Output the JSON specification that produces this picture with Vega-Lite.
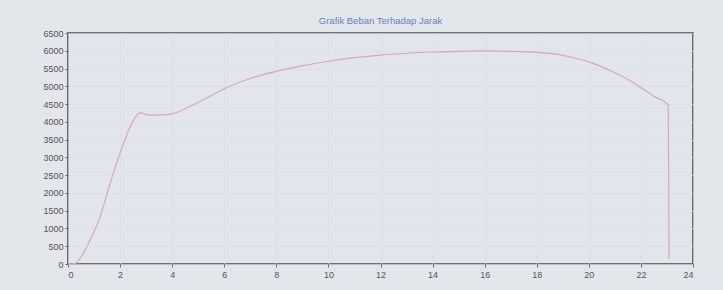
{
  "$schema": "https://vega.github.io/schema/vega-lite/v6.json",
  "width": 625,
  "height": 231,
  "autosize": {"type": "none"},
  "padding": {"left": 68, "top": 33, "right": 30, "bottom": 26},
  "background": "#e3e6eb",
  "title": {
    "text": "Grafik Beban Terhadap Jarak",
    "fontSize": 9.5,
    "font": "Liberation Sans",
    "fontWeight": "normal",
    "color": "#6a7fc0",
    "offset": 4,
    "anchor": "middle"
  },
  "config": {
    "view": {"fill": "#e2e6ec", "stroke": "#4a4a4a", "strokeWidth": 1.6},
    "axis": {
      "labelFont": "Liberation Sans",
      "labelFontSize": 9,
      "labelColor": "#555555",
      "domain": false,
      "ticks": true,
      "tickColor": "#666666",
      "tickSize": 3,
      "gridColor": "#dadee5",
      "gridWidth": 0.7,
      "title": null
    }
  },
  "data": {
    "values": [
      {"jarak": 0, "beban": 0},
      {"jarak": 0.27, "beban": 10},
      {"jarak": 0.5, "beban": 200},
      {"jarak": 0.85, "beban": 675},
      {"jarak": 1.23, "beban": 1320},
      {"jarak": 1.62, "beban": 2280},
      {"jarak": 2.0, "beban": 3120},
      {"jarak": 2.38, "beban": 3850},
      {"jarak": 2.6, "beban": 4150},
      {"jarak": 2.77, "beban": 4250},
      {"jarak": 3.0, "beban": 4210},
      {"jarak": 3.15, "beban": 4190},
      {"jarak": 3.6, "beban": 4195},
      {"jarak": 3.92, "beban": 4215},
      {"jarak": 4.3, "beban": 4300},
      {"jarak": 4.7, "beban": 4440},
      {"jarak": 5.2, "beban": 4620},
      {"jarak": 5.7, "beban": 4820},
      {"jarak": 6.2, "beban": 5000},
      {"jarak": 7.0, "beban": 5220},
      {"jarak": 8.0, "beban": 5420},
      {"jarak": 9.0, "beban": 5575},
      {"jarak": 10.0, "beban": 5705},
      {"jarak": 11.0, "beban": 5805},
      {"jarak": 12.0, "beban": 5880},
      {"jarak": 13.0, "beban": 5930},
      {"jarak": 14.0, "beban": 5965},
      {"jarak": 15.0, "beban": 5985},
      {"jarak": 16.0, "beban": 5995},
      {"jarak": 17.0, "beban": 5985},
      {"jarak": 18.0, "beban": 5955},
      {"jarak": 18.8, "beban": 5900},
      {"jarak": 19.5, "beban": 5790},
      {"jarak": 20.2, "beban": 5640},
      {"jarak": 20.8, "beban": 5450},
      {"jarak": 21.5, "beban": 5190},
      {"jarak": 22.0, "beban": 4960},
      {"jarak": 22.5, "beban": 4720},
      {"jarak": 23.05, "beban": 4470},
      {"jarak": 23.08, "beban": 150}
    ]
  },
  "mark": {"type": "line", "color": "#d8a8b2", "strokeWidth": 1.2, "interpolate": "monotone"},
  "encoding": {
    "x": {
      "field": "jarak",
      "type": "quantitative",
      "scale": {"domain": [0, 24], "nice": false},
      "axis": {"values": [0, 2, 4, 6, 8, 10, 12, 14, 16, 18, 20, 22, 24], "grid": true, "labelPadding": 3}
    },
    "y": {
      "field": "beban",
      "type": "quantitative",
      "scale": {"domain": [0, 6500], "nice": false},
      "axis": {"values": [0, 500, 1000, 1500, 2000, 2500, 3000, 3500, 4000, 4500, 5000, 5500, 6000, 6500], "format": "d", "grid": true, "labelPadding": 2}
    }
  }
}
